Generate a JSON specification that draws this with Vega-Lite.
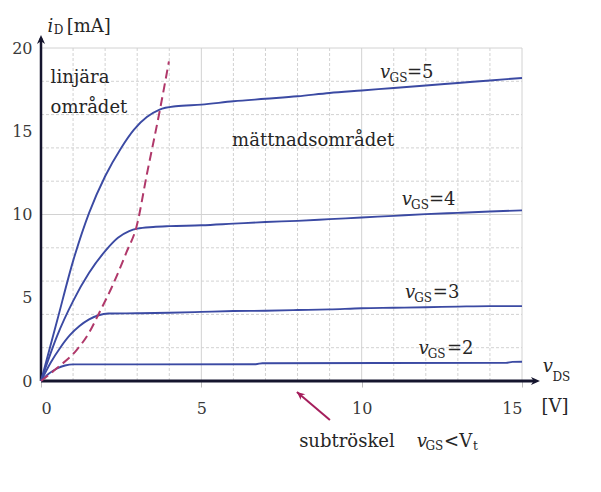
{
  "$schema": "https://vega.github.io/schema/vega-lite/v6.json",
  "description": "MOSFET output characteristics iD versus vDS for several vGS",
  "width": 481,
  "height": 333,
  "autosize": {"type": "none"},
  "padding": {"left": 41, "top": 48, "right": 79, "bottom": 111},
  "background": "white",
  "config": {"view": {"stroke": null}, "font": "DejaVu Serif"},
  "datasets": {
    "vgrid": [
      {"x": 1, "y": 0}, {"x": 2, "y": 0}, {"x": 3, "y": 0}, {"x": 4, "y": 0},
      {"x": 5, "y": 0}, {"x": 6, "y": 0}, {"x": 7, "y": 0}, {"x": 8, "y": 0},
      {"x": 9, "y": 0}, {"x": 10, "y": 0}, {"x": 11, "y": 0}, {"x": 12, "y": 0},
      {"x": 13, "y": 0}, {"x": 14, "y": 0}, {"x": 15, "y": 0}
    ],
    "hgrid": [
      {"x": 0, "y": 2}, {"x": 0, "y": 4}, {"x": 0, "y": 6}, {"x": 0, "y": 8},
      {"x": 0, "y": 10}, {"x": 0, "y": 12}, {"x": 0, "y": 14}, {"x": 0, "y": 16},
      {"x": 0, "y": 18}, {"x": 0, "y": 20}
    ],
    "curves": [
      {"series": "5", "x": 0, "y": 0}, {"series": "5", "x": 0.5, "y": 3.6},
      {"series": "5", "x": 1, "y": 7.2}, {"series": "5", "x": 1.5, "y": 10.1},
      {"series": "5", "x": 2, "y": 12.3}, {"series": "5", "x": 2.5, "y": 14.0},
      {"series": "5", "x": 2.9, "y": 15.1}, {"series": "5", "x": 3.3, "y": 15.85},
      {"series": "5", "x": 3.7, "y": 16.3}, {"series": "5", "x": 4.2, "y": 16.5},
      {"series": "5", "x": 5, "y": 16.6}, {"series": "5", "x": 6, "y": 16.8},
      {"series": "5", "x": 7, "y": 16.95}, {"series": "5", "x": 8, "y": 17.1},
      {"series": "5", "x": 9, "y": 17.3}, {"series": "5", "x": 10, "y": 17.45},
      {"series": "5", "x": 11, "y": 17.6}, {"series": "5", "x": 12, "y": 17.75},
      {"series": "5", "x": 13, "y": 17.9}, {"series": "5", "x": 14, "y": 18.05},
      {"series": "5", "x": 15, "y": 18.2},
      {"series": "4", "x": 0, "y": 0}, {"series": "4", "x": 0.5, "y": 2.7},
      {"series": "4", "x": 1, "y": 4.8}, {"series": "4", "x": 1.5, "y": 6.5},
      {"series": "4", "x": 2, "y": 7.8}, {"series": "4", "x": 2.4, "y": 8.6},
      {"series": "4", "x": 2.75, "y": 9.0}, {"series": "4", "x": 3, "y": 9.15},
      {"series": "4", "x": 3.5, "y": 9.25}, {"series": "4", "x": 4, "y": 9.3},
      {"series": "4", "x": 5, "y": 9.35}, {"series": "4", "x": 6, "y": 9.45},
      {"series": "4", "x": 7, "y": 9.55}, {"series": "4", "x": 8, "y": 9.62},
      {"series": "4", "x": 9, "y": 9.72}, {"series": "4", "x": 10, "y": 9.82},
      {"series": "4", "x": 11, "y": 9.92}, {"series": "4", "x": 12, "y": 10.02},
      {"series": "4", "x": 13, "y": 10.1}, {"series": "4", "x": 14, "y": 10.18},
      {"series": "4", "x": 15, "y": 10.25},
      {"series": "3", "x": 0, "y": 0}, {"series": "3", "x": 0.3, "y": 1.1},
      {"series": "3", "x": 0.6, "y": 2.0}, {"series": "3", "x": 0.9, "y": 2.75},
      {"series": "3", "x": 1.2, "y": 3.3}, {"series": "3", "x": 1.5, "y": 3.7},
      {"series": "3", "x": 1.8, "y": 3.95}, {"series": "3", "x": 2.1, "y": 4.05},
      {"series": "3", "x": 3, "y": 4.07}, {"series": "3", "x": 4, "y": 4.1},
      {"series": "3", "x": 5, "y": 4.15}, {"series": "3", "x": 6, "y": 4.2},
      {"series": "3", "x": 7, "y": 4.22}, {"series": "3", "x": 8, "y": 4.26},
      {"series": "3", "x": 9, "y": 4.3}, {"series": "3", "x": 10, "y": 4.37},
      {"series": "3", "x": 11, "y": 4.4}, {"series": "3", "x": 12, "y": 4.43},
      {"series": "3", "x": 13, "y": 4.47}, {"series": "3", "x": 14, "y": 4.5},
      {"series": "3", "x": 15, "y": 4.5},
      {"series": "2", "x": 0, "y": 0}, {"series": "2", "x": 0.25, "y": 0.45},
      {"series": "2", "x": 0.5, "y": 0.75}, {"series": "2", "x": 0.75, "y": 0.93},
      {"series": "2", "x": 1, "y": 1.0}, {"series": "2", "x": 3, "y": 1.0},
      {"series": "2", "x": 6.7, "y": 1.01}, {"series": "2", "x": 6.9, "y": 1.07},
      {"series": "2", "x": 14.5, "y": 1.09}, {"series": "2", "x": 14.7, "y": 1.15},
      {"series": "2", "x": 15, "y": 1.16}
    ],
    "boundary": [
      {"x": 0, "y": 0}, {"x": 0.49, "y": 0.76}, {"x": 1.11, "y": 1.86},
      {"x": 1.5, "y": 2.9}, {"x": 1.81, "y": 4.07}, {"x": 2.2, "y": 5.6},
      {"x": 2.67, "y": 7.75}, {"x": 2.98, "y": 9.28}, {"x": 3.3, "y": 12.4},
      {"x": 3.71, "y": 16.3}, {"x": 3.99, "y": 19.2}
    ],
    "origin": [{"x": 0, "y": 0}],
    "xtip": [{"x": 15.56, "y": 0}],
    "ytip": [{"x": 0, "y": 20.78}],
    "pointer": [{"x": 9.01, "y": -2.34, "x2": 7.98, "y2": -0.66}],
    "labels": [
      {"text": "linjära", "role": "roman", "x": 0.3, "y": 17.9},
      {"text": "området", "role": "roman", "x": 0.3, "y": 16.11},
      {"text": "mättnadsområdet", "role": "roman", "x": 5.96, "y": 14.11},
      {"text": "v", "role": "italic", "x": 10.57, "y": 18.18},
      {"text": "GS", "role": "sub", "x": 10.87, "y": 17.97},
      {"text": "=5", "role": "roman", "x": 11.41, "y": 18.18},
      {"text": "v", "role": "italic", "x": 11.25, "y": 10.57},
      {"text": "GS", "role": "sub", "x": 11.54, "y": 10.36},
      {"text": "=4", "role": "roman", "x": 12.1, "y": 10.57},
      {"text": "v", "role": "italic", "x": 11.35, "y": 4.97},
      {"text": "GS", "role": "sub", "x": 11.64, "y": 4.76},
      {"text": "=3", "role": "roman", "x": 12.22, "y": 4.97},
      {"text": "v", "role": "italic", "x": 11.77, "y": 1.62},
      {"text": "GS", "role": "sub", "x": 12.06, "y": 1.41},
      {"text": "=2", "role": "roman", "x": 12.66, "y": 1.62},
      {"text": "subtröskel", "role": "roman", "x": 8.05, "y": -3.95},
      {"text": "v", "role": "italic", "x": 11.72, "y": -3.95},
      {"text": "GS", "role": "sub", "x": 11.99, "y": -4.16},
      {"text": "<V", "role": "roman", "x": 12.57, "y": -3.95},
      {"text": "t", "role": "sub", "x": 13.47, "y": -4.16},
      {"text": "i", "role": "italic", "x": 0.2, "y": 20.98},
      {"text": "D", "role": "sub", "x": 0.4, "y": 20.85},
      {"text": "[mA]", "role": "roman", "x": 0.8, "y": 20.98},
      {"text": "v", "role": "italic", "x": 15.65, "y": 0.56},
      {"text": "DS", "role": "sub", "x": 15.95, "y": 0.02},
      {"text": "[V]", "role": "roman", "x": 15.61, "y": -1.84}
    ]
  },
  "encoding": {
    "x": {
      "field": "x",
      "type": "quantitative",
      "scale": {"domain": [0, 15], "nice": false, "zero": false},
      "axis": {
        "title": null,
        "values": [0, 5, 10, 15],
        "format": "d",
        "domain": false,
        "grid": false,
        "tickColor": "#bdbdbd",
        "tickSize": 6,
        "labelPadding": 13,
        "labelFont": "DejaVu Serif",
        "labelFontSize": 16,
        "labelColor": "#3a3a3a"
      }
    },
    "y": {
      "field": "y",
      "type": "quantitative",
      "scale": {"domain": [0, 20], "nice": false, "zero": false},
      "axis": {
        "title": null,
        "values": [0, 5, 10, 15, 20],
        "format": "d",
        "domain": false,
        "grid": false,
        "ticks": false,
        "labelPadding": 9,
        "labelFont": "DejaVu Serif",
        "labelFontSize": 16,
        "labelColor": "#3a3a3a"
      }
    }
  },
  "layer": [
    {
      "data": {"name": "vgrid"},
      "mark": {"type": "rule", "strokeWidth": 1},
      "encoding": {
        "y2": {"datum": 20},
        "color": {"value": "#d2d2d2"},
        "strokeDash": {
          "condition": {"test": "datum.x % 5 === 0", "value": [1, 0]},
          "value": [3, 2]
        }
      }
    },
    {
      "data": {"name": "hgrid"},
      "mark": {"type": "rule", "strokeWidth": 1},
      "encoding": {
        "x2": {"datum": 15},
        "color": {"value": "#d2d2d2"},
        "strokeDash": {
          "condition": {"test": "datum.y % 10 === 0", "value": [1, 0]},
          "value": [3, 2]
        }
      }
    },
    {
      "data": {"name": "origin"},
      "mark": {"type": "rule", "color": "#15152e", "strokeWidth": 2.5},
      "encoding": {"y2": {"datum": 20.6}}
    },
    {
      "data": {"name": "origin"},
      "mark": {"type": "rule", "color": "#15152e", "strokeWidth": 3},
      "encoding": {"x2": {"datum": 15.4}}
    },
    {
      "data": {"name": "xtip"},
      "mark": {
        "type": "point",
        "shape": "M0,0 L-1,-0.45 L-0.7,0 L-1,0.45 Z",
        "size": 324,
        "filled": true,
        "color": "#15152e",
        "opacity": 1
      }
    },
    {
      "data": {"name": "ytip"},
      "mark": {
        "type": "point",
        "shape": "M0,0 L-1,-0.45 L-0.7,0 L-1,0.45 Z",
        "size": 324,
        "angle": 270,
        "filled": true,
        "color": "#15152e",
        "opacity": 1
      }
    },
    {
      "data": {"name": "curves"},
      "mark": {"type": "line", "interpolate": "monotone", "color": "#3b4aa3", "strokeWidth": 1.9},
      "encoding": {"detail": {"field": "series"}}
    },
    {
      "data": {"name": "boundary"},
      "mark": {
        "type": "line",
        "interpolate": "monotone",
        "color": "#b0386a",
        "strokeWidth": 2,
        "strokeDash": [9, 5]
      },
      "encoding": {}
    },
    {
      "data": {"name": "pointer"},
      "mark": {"type": "rule", "color": "#a51e5c", "strokeWidth": 2},
      "encoding": {
        "x2": {"field": "x2"},
        "y2": {"field": "y2"}
      }
    },
    {
      "data": {"name": "pointer"},
      "mark": {
        "type": "point",
        "shape": "M0,0 L-1,-0.45 L-0.7,0 L-1,0.45 Z",
        "size": 256,
        "angle": 220,
        "filled": true,
        "color": "#a51e5c",
        "opacity": 1
      },
      "encoding": {
        "x": {"field": "x2", "type": "quantitative"},
        "y": {"field": "y2", "type": "quantitative"}
      }
    },
    {
      "data": {"name": "labels"},
      "transform": [{"filter": "datum.role === 'roman'"}],
      "mark": {"type": "text", "align": "left", "baseline": "alphabetic", "font": "DejaVu Serif", "fontSize": 18, "color": "#262626"},
      "encoding": {"text": {"field": "text"}}
    },
    {
      "data": {"name": "labels"},
      "transform": [{"filter": "datum.role === 'italic'"}],
      "mark": {"type": "text", "align": "left", "baseline": "alphabetic", "font": "DejaVu Serif", "fontStyle": "italic", "fontSize": 18, "color": "#262626"},
      "encoding": {"text": {"field": "text"}}
    },
    {
      "data": {"name": "labels"},
      "transform": [{"filter": "datum.role === 'sub'"}],
      "mark": {"type": "text", "align": "left", "baseline": "alphabetic", "font": "DejaVu Serif", "fontSize": 12, "color": "#262626"},
      "encoding": {"text": {"field": "text"}}
    }
  ]
}
